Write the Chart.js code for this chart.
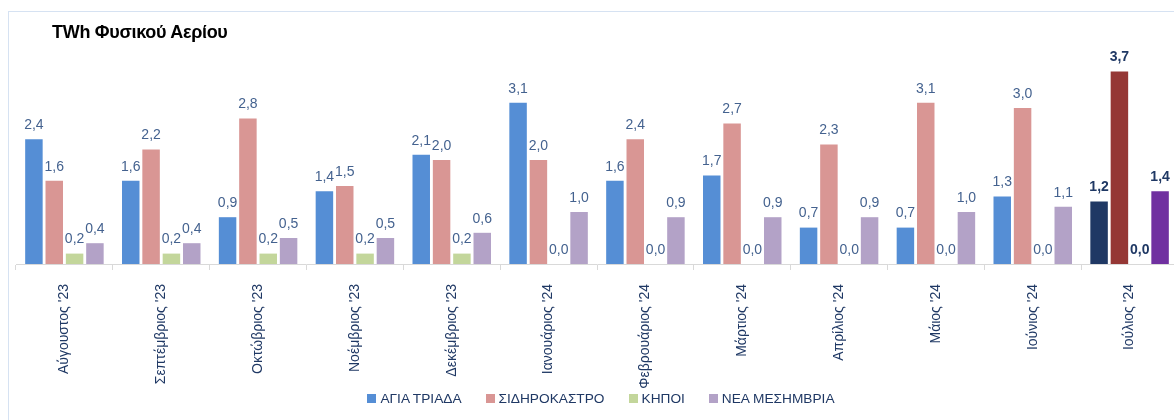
<!DOCTYPE html>
<html>
<head>
<meta charset="utf-8">
<script src="https://cdn.jsdelivr.net/npm/chart.js@4"></script>
<style>
  html, body { margin: 0; padding: 0; background: #fff; overflow: hidden; }
  #wrap { position: relative; width: 1180px; height: 420px; }
  #frame { position: absolute; left: 8px; top: 11px; width: 1200px; height: 500px; border: 1px solid #d6e2f2; }
  #title { position: absolute; left: 52px; top: 22px; font: bold 18px 'Liberation Sans', Arial, sans-serif; color: #000; letter-spacing: -0.3px; }
  #legend { position: absolute; left: 0; top: 391px; width: 1202px; text-align: center;
            font: 13.7px 'Liberation Sans', Arial, sans-serif; color: #1f3864; }
  #legend span.item { display: inline-block; margin: 0 12px; }
  #legend span.box { display: inline-block; width: 9px; height: 9px; margin-right: 4px; }
</style>
</head>
<body>
<div id="wrap">
  <div id="frame"></div>
  <div id="title">TWh Φυσικού Αερίου</div>
  <canvas id="myChart" width="1180" height="420"></canvas>
  <div id="legend"></div>
</div>
<script>
// months on the x axis
const months = ["Αύγουστος '23", "Σεπτέμβριος '23", "Οκτώβριος '23", "Νοέμβριος '23", "Δεκέμβριος '23",
    "Ιανουάριος '24", "Φεβρουάριος '24", "Μάρτιος '24", "Απρίλιος '24", "Μάιος '24", "Ιούνιος '24", "Ιούλιος '24"];

// TWh per station
const agiaTriada = [2.4, 1.6, 0.9, 1.4, 2.1, 3.1, 1.6, 1.7, 0.7, 0.7, 1.3, 1.2];
const sidirokastro = [1.6, 2.2, 2.8, 1.5, 2.0, 2.0, 2.4, 2.7, 2.3, 3.1, 3.0, 3.7];
const kipoi = [0.2, 0.2, 0.2, 0.2, 0.2, 0.0, 0.0, 0.0, 0.0, 0.0, 0.0, 0.0];
const neaMesimvria = [0.4, 0.4, 0.5, 0.5, 0.6, 1.0, 0.9, 0.9, 0.9, 1.0, 1.1, 1.4];

const seriesNames = ['ΑΓΙΑ ΤΡΙΑΔΑ', 'ΣΙΔΗΡΟΚΑΣΤΡΟ', 'ΚΗΠΟΙ', 'ΝΕΑ ΜΕΣΗΜΒΡΙΑ'];
const seriesColors = ['#558ed5', '#d99694', '#c3d69b', '#b3a2c7'];
// last month is highlighted with darker shades
const lastColors = ['#1f3864', '#953735', '#76923c', '#7030a0'];
const lastIndex = months.length - 1;

const FONT = "'Liberation Sans', Arial, sans-serif";

// draw the value above every bar
const valueLabels = {
    id: 'valueLabels',
    afterDatasetsDraw(chart) {
        const ctx = chart.ctx;
        ctx.save();
        ctx.textAlign = 'center';
        ctx.textBaseline = 'bottom';
        chart.data.datasets.forEach((ds, i) => {
            const meta = chart.getDatasetMeta(i);
            meta.data.forEach((bar, j) => {
                const last = j === lastIndex;
                ctx.font = (last ? 'bold ' : '') + '14px ' + FONT;
                ctx.fillStyle = last ? '#1f3864' : '#44628f';
                ctx.fillText(ds.data[j].toFixed(1).replace('.', ','), bar.x, bar.y - 7);
            });
        });
        ctx.restore();
    }
};

const ctx = document.getElementById('myChart').getContext('2d');

const myChart = new Chart(ctx, {
    type: 'bar',
    data: {
        labels: months,
        datasets: [agiaTriada, sidirokastro, kipoi, neaMesimvria].map((values, i) => ({
            label: seriesNames[i],
            data: values,
            backgroundColor: (c) => c.dataIndex === lastIndex ? lastColors[i] : seriesColors[i],
            categoryPercentage: 0.84,
            barPercentage: 0.86
        }))
    },
    options: {
        responsive: false,
        animation: false,
        layout: { padding: { top: 56, left: 16, right: 2, bottom: 0 } },
        plugins: {
            legend: { display: false },
            tooltip: { enabled: false }
        },
        scales: {
            x: {
                grid: { drawOnChartArea: false, color: '#d9d9d9', tickLength: 6, offset: true },
                border: { color: '#d9d9d9' },
                ticks: {
                    minRotation: 90,
                    maxRotation: 90,
                    padding: 14,
                    color: '#1f3864',
                    font: { family: FONT, size: 14 }
                },
                afterFit: (scale) => { scale.height = 156; }
            },
            y: {
                display: false,
                min: 0,
                max: 4.0
            }
        }
    },
    plugins: [valueLabels]
});

// legend below the axis, built from the chart's datasets
document.getElementById('legend').innerHTML = myChart.data.datasets.map((ds, i) =>
    `<span class="item"><span class="box" style="background:${seriesColors[i]}"></span>${ds.label}</span>`
).join('');
</script>
</body>
</html>
